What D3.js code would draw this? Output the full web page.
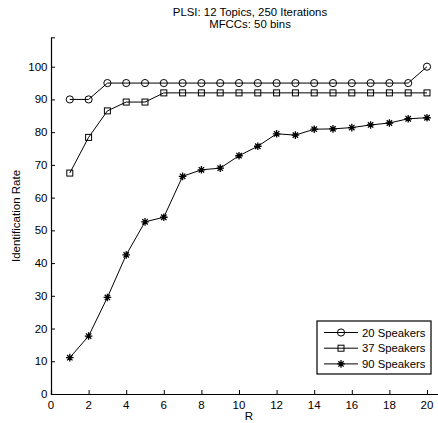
<!DOCTYPE html>
<html>
<head>
<meta charset="utf-8">
<script src="https://cdn.jsdelivr.net/npm/d3@7"></script>
<style>
  body { margin: 0; background: #fff; }
  svg { display: block; font-family: "Liberation Sans", Arial, sans-serif; }
</style>
</head>
<body>
<svg id="chart" width="438" height="423"></svg>
<script>
var rValues = [1,2,3,4,5,6,7,8,9,10,11,12,13,14,15,16,17,18,19,20];
var speakers20 = [90,90,95,95,95,95,95,95,95,95,95,95,95,95,95,95,95,95,95,100];
var speakers37 = [67.5,78.4,86.5,89.2,89.2,92,92,92,92,92,92,92,92,92,92,92,92,92,92,92];
var speakers90 = [11.1,17.7,29.5,42.5,52.6,54,66.5,68.5,69,72.8,75.7,79.5,79.1,80.9,81,81.4,82.2,82.8,84.1,84.4];
var seriesNames = ["20 Speakers", "37 Speakers", "90 Speakers"];
var xTicks = [0,2,4,6,8,10,12,14,16,18,20];
var yTicks = [0,10,20,30,40,50,60,70,80,90,100];
var titleLines = ["PLSI: 12 Topics, 250 Iterations", "MFCCs: 50 bins"];

var svg = d3.select("#chart");
var x = d3.scaleLinear().domain([0, 21]).range([51, 51 + 21 * 18.8]);
var y = d3.scaleLinear().domain([0, 109]).range([394, 394 - 109 * 3.273]);

var series = [
  {name: seriesNames[0], values: speakers20, marker: "circle"},
  {name: seriesNames[1], values: speakers37, marker: "square"},
  {name: seriesNames[2], values: speakers90, marker: "star"}
];

/* axes: matlab style, ticks inside */
var xAxis = svg.append("g").attr("transform", "translate(0," + y(0) + ")")
  .call(d3.axisTop(x).tickValues(xTicks).tickSize(4).tickFormat(""));
xAxis.selectAll("text").remove();
var yAxis = svg.append("g").attr("transform", "translate(" + x(0) + ",0)")
  .call(d3.axisRight(y).tickValues(yTicks).tickSize(4).tickFormat(""));
[xAxis, yAxis].forEach(function(g) {
  g.select(".domain").attr("stroke", "#000").attr("stroke-width", 1.2);
  g.selectAll(".tick line").attr("stroke", "#000");
});
svg.selectAll(".xlab").data(xTicks).enter().append("text")
  .attr("x", function(d) { return x(d); }).attr("y", y(0) + 15)
  .attr("text-anchor", "middle").attr("font-size", 11.5).text(function(d) { return d; });
svg.selectAll(".ylab").data(yTicks).enter().append("text")
  .attr("x", x(0) - 3.5).attr("y", function(d) { return y(d) + 4; })
  .attr("text-anchor", "end").attr("font-size", 11.5).text(function(d) { return d; });

svg.append("text").attr("x", 249).attr("y", 420).attr("text-anchor", "middle")
  .attr("font-size", 11.5).text("R");
svg.append("text").attr("transform", "translate(20,216) rotate(-90)")
  .attr("text-anchor", "middle").attr("font-size", 11.5).text("Identification Rate");
svg.selectAll(".title").data(titleLines).enter().append("text")
  .attr("x", 250).attr("y", function(d, i) { return 15.5 + i * 12; })
  .attr("text-anchor", "middle").attr("font-size", 11.4).text(function(d) { return d; });

function drawMarker(g, type, cx, cy) {
  if (type === "circle") {
    g.append("circle").attr("cx", cx).attr("cy", cy).attr("r", 3.6)
      .attr("fill", "none").attr("stroke", "#000").attr("stroke-width", 1);
  } else if (type === "square") {
    g.append("rect").attr("x", cx - 3).attr("y", cy - 3).attr("width", 6).attr("height", 6)
      .attr("fill", "none").attr("stroke", "#000").attr("stroke-width", 1);
  } else {
    var r = 3.8, p = "";
    for (var a = 0; a < 4; a++) {
      var ang = a * Math.PI / 4;
      p += "M" + (cx - r * Math.cos(ang)) + "," + (cy - r * Math.sin(ang)) +
           "L" + (cx + r * Math.cos(ang)) + "," + (cy + r * Math.sin(ang));
    }
    g.append("path").attr("d", p).attr("stroke", "#000").attr("stroke-width", 1.3);
  }
}

var line = d3.line().x(function(d, i) { return x(rValues[i]); }).y(function(d) { return y(d); });
series.forEach(function(s) {
  var g = svg.append("g");
  g.append("path").attr("d", line(s.values)).attr("fill", "none")
    .attr("stroke", "#000").attr("stroke-width", 1);
  s.values.forEach(function(v, i) { drawMarker(g, s.marker, x(rValues[i]), y(v)); });
});

/* legend */
var leg = svg.append("g");
leg.append("rect").attr("x", 317).attr("y", 321).attr("width", 114).attr("height", 53)
  .attr("fill", "#fff").attr("stroke", "#000").attr("stroke-width", 1.2);
series.forEach(function(s, i) {
  var ly = 332.5 + i * 15.7;
  leg.append("line").attr("x1", 324).attr("x2", 358).attr("y1", ly).attr("y2", ly)
    .attr("stroke", "#000").attr("stroke-width", 1);
  drawMarker(leg, s.marker, 341, ly);
  leg.append("text").attr("x", 362).attr("y", ly + 4).attr("font-size", 11.3).text(s.name);
});
</script>
</body>
</html>
